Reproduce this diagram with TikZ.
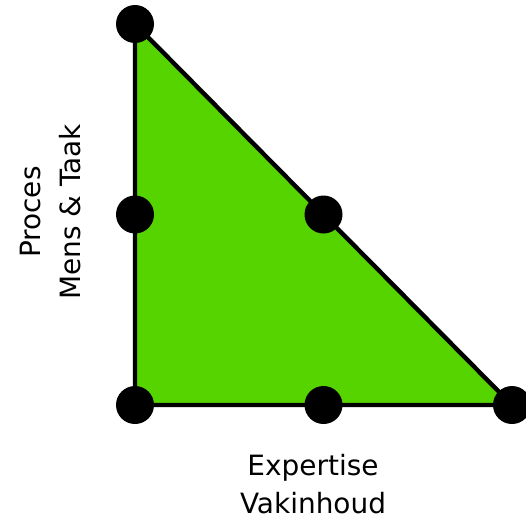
\documentclass[tikz,border=0pt]{standalone}
\usepackage{fontspec}
\setmainfont{DejaVu Sans}
\usetikzlibrary{calc}
\definecolor{FillClr}{RGB}{85,212,0}
\tikzset{
  dot/.style={circle,fill=black,inner sep=0pt,minimum size=0.76cm},
  lbl/.style={anchor=base,font=\fontsize{15.9}{21.6}\selectfont}
}

\begin{document}
\begin{tikzpicture}[x=0.02cm,y=-0.02cm]
\useasboundingbox (0,0) rectangle (526,521);

\coordinate (A) at (135,24);
\coordinate (B) at (135,405);
\coordinate (C) at (512,405);
\coordinate (MAB) at ($(A)!0.5!(B)$);
\coordinate (MAC) at ($(A)!0.5!(C)$);
\coordinate (MBC) at ($(B)!0.5!(C)$);

\filldraw[fill=FillClr,line width=2.5pt,line join=miter] (A) -- (B) -- (C) -- cycle;

\foreach \p in {A,B,C,MAB,MAC,MBC}
  \node[dot] (dot\p) at (\p) {};

\node[lbl,rotate=90] (lblProces) at (40,212) {Proces};
\node[lbl,rotate=90] (lblMens) at (80,212) {Mens \& Taak};
\node[lbl] (lblExpertise) at (313,475) {Expertise};
\node[lbl] (lblVakinhoud) at (313,513) {Vakinhoud};

\end{tikzpicture}
\end{document}
